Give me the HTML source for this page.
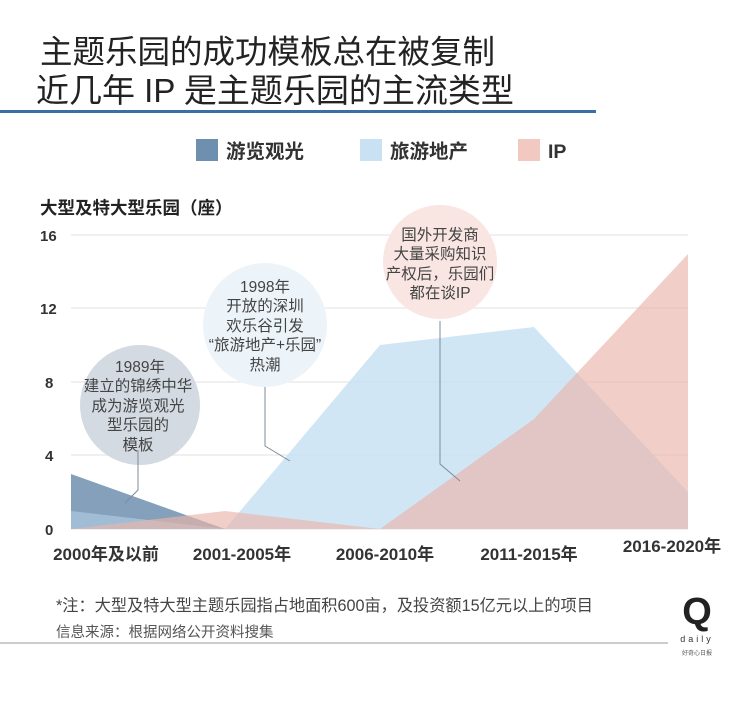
<!DOCTYPE html>
<html><head><meta charset="utf-8"><style>
body{margin:0;background:#fff;width:750px;height:699px;overflow:hidden;font-family:"Liberation Sans","Noto Sans CJK SC",sans-serif}
</style></head><body>
<svg width="750" height="699" viewBox="0 0 750 699" xmlns="http://www.w3.org/2000/svg" font-family="Liberation Sans, Noto Sans CJK SC, sans-serif">
<text x="40" y="63" font-size="32.5" fill="#222">主题乐园的成功模板总在被复制</text>
<text x="36" y="102" font-size="33" fill="#222">近几年 IP 是主题乐园的主流类型</text>
<rect x="0" y="110" width="596" height="3" fill="#3a6fa6"/>
<rect x="196" y="139" width="22" height="22" fill="#6e8fae"/>
<text x="226" y="158" font-size="19.5" font-weight="bold" fill="#333">游览观光</text>
<rect x="360" y="139" width="22" height="22" fill="#c8e2f3"/>
<text x="390" y="158" font-size="19.5" font-weight="bold" fill="#333">旅游地产</text>
<rect x="518" y="139" width="22" height="22" fill="#f2c9c1"/>
<text x="548" y="158" font-size="19.5" font-weight="bold" fill="#333">IP</text>
<text x="40" y="214" font-size="17.5" font-weight="bold" fill="#222">大型及特大型乐园（座）</text>
<g stroke="#e2e2e2" stroke-width="1">
<line x1="71" y1="235" x2="688" y2="235"/><line x1="71" y1="308" x2="688" y2="308"/><line x1="71" y1="382" x2="688" y2="382"/><line x1="71" y1="455" x2="688" y2="455"/><line x1="71" y1="529" x2="688" y2="529"/></g>
<g font-size="15" font-weight="bold" fill="#333"><text x="40" y="241">16</text><text x="40" y="314">12</text><text x="45" y="388">8</text><text x="45" y="461">4</text><text x="45" y="535">0</text></g>
<circle cx="140" cy="405" r="60" fill="#d3dae2"/>
<circle cx="265" cy="325" r="62" fill="#ecf4fa"/>
<circle cx="440" cy="262" r="57" fill="#f9e6e2"/>
<polygon points="71,474 225,529 71,529" fill="#6e8fae" opacity="0.85"/>
<polygon points="71,511 225,529 71,529" fill="#a9c4dc" opacity="0.8"/>
<polygon points="225,529 380,345 534,327 688,492 688,529" fill="#c8e2f3" opacity="0.85"/>
<polygon points="71,529 225,511 380,529 534,419 688,254 688,529" fill="#eab5aa" opacity="0.65"/>
<g stroke="#7d8c99" stroke-width="1" fill="none">
<polyline points="138,450 138,490 125,503"/>
<polyline points="265,387 265,446 290,461"/>
<polyline points="440,321 440,464 460,481"/></g>
<g font-size="15.5" fill="#444" text-anchor="middle">
<text x="140" y="372">1989年</text><text x="138" y="391">建立的锦绣中华</text><text x="138" y="411">成为游览观光</text><text x="138" y="430">型乐园的</text><text x="138" y="450">模板</text>
<text x="265" y="292">1998年</text><text x="265" y="311">开放的深圳</text><text x="265" y="331">欢乐谷引发</text><text x="265" y="350">“旅游地产+乐园”</text><text x="265" y="370">热潮</text>
<text x="440" y="240">国外开发商</text><text x="440" y="259">大量采购知识</text><text x="440" y="279">产权后，乐园们</text><text x="440" y="298">都在谈IP</text></g>
<g font-size="17" font-weight="bold" fill="#333" text-anchor="middle">
<text x="106" y="560">2000年及以前</text><text x="242" y="560">2001-2005年</text><text x="385" y="560">2006-2010年</text><text x="529" y="560">2011-2015年</text><text x="672" y="552">2016-2020年</text></g>
<text x="56" y="611" font-size="16.2" fill="#444">*注：大型及特大型主题乐园指占地面积600亩，及投资额15亿元以上的项目</text>
<text x="56" y="637" font-size="14.5" fill="#555">信息来源：根据网络公开资料搜集</text>
<line x1="0" y1="643" x2="668" y2="643" stroke="#999" stroke-width="1"/>
<text x="697" y="624" font-size="38" font-weight="bold" fill="#222" text-anchor="middle">Q</text>
<text x="697" y="642" font-size="9" fill="#333" text-anchor="middle" letter-spacing="3">daily</text>
<text x="697" y="655" font-size="6" fill="#555" text-anchor="middle">好奇心日报</text>
</svg>
</body></html>
